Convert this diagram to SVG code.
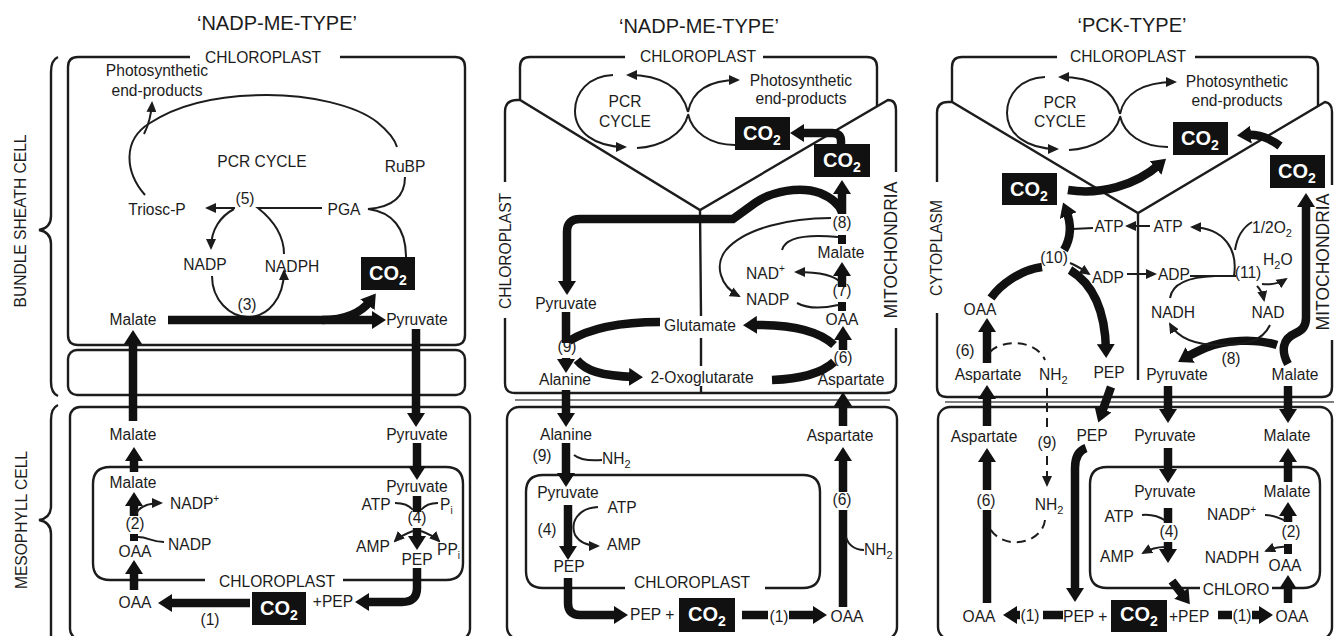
<svg xmlns="http://www.w3.org/2000/svg" width="1334" height="636" viewBox="0 0 1334 636">
<defs>
<style>
text{font-family:"Liberation Sans",Arial,Helvetica,sans-serif;font-size:15.6px;fill:#1c1c1c;text-anchor:middle}
.st{text-anchor:start}
.ti{font-size:20px}
.mi{font-size:17.5px}
.cw{font-size:20px;font-weight:bold;fill:#fff}
.box{fill:none;stroke:#1c1c1c;stroke-width:2.4}
.wall{fill:none;stroke:#555;stroke-width:1.3}
.ln{fill:none;stroke:#1c1c1c;stroke-width:2}
.tk{fill:none;stroke:#111;stroke-width:8.5}
.ds{stroke-dasharray:9 6}
.cb{fill:#111}
</style>
<marker id="a" viewBox="0 0 11 10" markerWidth="11" markerHeight="10" refX="9" refY="5" orient="auto" markerUnits="userSpaceOnUse"><path d="M0,0L11,5L0,10z" fill="#1c1c1c"/></marker>
<marker id="A" viewBox="0 0 14 18" markerWidth="14" markerHeight="18" refX="6" refY="9" orient="auto" markerUnits="userSpaceOnUse"><path d="M0,0L14,9L0,18z" fill="#111"/></marker>
</defs>
<rect width="1334" height="636" fill="#fff"/>

<!-- ================= PANEL 1 ================= -->
<g id="p1-compartments">
<path class="box" d="M190,57 L78,57 Q68,57 68,67 L68,335 Q68,345 78,345 L455,345 Q465,345 465,335 L465,67 Q465,57 455,57 L340,57"/>
<rect class="box" x="68" y="350" width="397" height="45" rx="9"/>
<rect class="box" x="70" y="407" width="400" height="232" rx="10"/>
<path class="box" d="M205,580 L110,580 Q93,580 93,563 L93,484 Q93,467 110,467 L446,467 Q463,467 463,484 L463,563 Q463,580 446,580 L343,580"/>
<path class="box" d="M58,57 Q51,60 51,72 L51,216 Q51,228 39,230 Q51,232 51,244 L51,382 Q51,393 58,396"/>
<path class="box" d="M58,405 Q51,408 51,420 L51,506 Q51,518 39,520 Q51,522 51,534 L51,640"/>
</g>
<g id="p1-labels">
<text class="ti" x="277" y="30">‘NADP-ME-TYPE’</text>
<text x="263" y="63">CHLOROPLAST</text>
<text x="277" y="587">CHLOROPLAST</text>
<text transform="translate(26,221) rotate(-90)">BUNDLE SHEATH CELL</text>
<text transform="translate(27,520) rotate(-90)">MESOPHYLL CELL</text>
</g>
<g id="p1-photo"><text x="157" y="76">Photosynthetic</text><text x="157" y="96">end-products</text></g>
<g id="p1-pcr"><text x="262" y="167">PCR CYCLE</text></g>
<g id="p1-rubp"><text x="405" y="172">RuBP</text></g>
<g id="p1-triose"><text x="157" y="215">Triosc-P</text></g>
<g id="p1-e5"><text x="245" y="204">(5)</text></g>
<g id="p1-pga"><text x="344" y="215">PGA</text></g>
<g id="p1-nadp"><text x="205" y="270">NADP</text></g>
<g id="p1-nadph"><text x="292" y="272">NADPH</text></g>
<g id="p1-e3"><text x="247" y="310">(3)</text></g>
<g id="p1-co2-bs"><rect class="cb" x="361" y="257" width="54" height="33"/><text class="cw" x="388" y="280">CO<tspan dy="5" font-size="14">2</tspan></text></g>
<g id="p1-malate-bs"><text x="133" y="325">Malate</text></g>
<g id="p1-pyr-bs"><text x="417" y="325">Pyruvate</text></g>
<g id="p1-malate-m"><text x="133" y="440">Malate</text></g>
<g id="p1-pyr-m"><text x="417" y="440">Pyruvate</text></g>
<g id="p1-malate-c"><text x="133" y="488">Malate</text></g>
<g id="p1-nadpp"><text class="st" x="170" y="509">NADP<tspan dy="-7" font-size="10">+</tspan></text></g>
<g id="p1-e2"><text x="135" y="529">(2)</text></g>
<g id="p1-nadp2"><text class="st" x="168" y="550">NADP</text></g>
<g id="p1-oaa-c"><text x="135" y="557">OAA</text></g>
<g id="p1-oaa-m"><text x="135" y="608">OAA</text></g>
<g id="p1-co2-m"><rect class="cb" x="252" y="592" width="54" height="33"/><text class="cw" x="279" y="615">CO<tspan dy="5" font-size="14">2</tspan></text></g>
<g id="p1-e1"><text x="210" y="625">(1)</text></g>
<g id="p1-pep-plus"><text x="333" y="607">+PEP</text></g>
<g id="p1-pyr-c"><text x="417" y="492">Pyruvate</text></g>
<g id="p1-atp"><text x="376" y="510">ATP</text></g>
<g id="p1-pi"><text class="st" x="440" y="510">P<tspan dy="4" font-size="10">i</tspan></text></g>
<g id="p1-e4"><text x="417" y="523">(4)</text></g>
<g id="p1-amp"><text x="373" y="552">AMP</text></g>
<g id="p1-ppi"><text class="st" x="437" y="555">PP<tspan dy="4" font-size="10">i</tspan></text></g>
<g id="p1-pep-c"><text x="417" y="565">PEP</text></g>

<g id="p1-connectors">
<path class="ln" d="M145,195 C125,172 122,140 150,123 C185,100 230,95 267,95 C310,95 355,105 377,122 C388,131 395,140 397,147"/>
<path class="ln" d="M144,134 Q151,120 152,103" marker-end="url(#a)"/>
<path class="ln" d="M235,208 L207,208" marker-end="url(#a)"/>
<path class="ln" d="M234,209 C221,216 211,229 211,248" marker-end="url(#a)"/>
<path class="ln" d="M322,208 L258,208 C273,220 284,236 284,254"/>
<path class="ln" d="M212,276 C212,300 230,317 248,317 C268,317 284,298 284,271" marker-end="url(#a)"/>
<path class="ln" d="M405,177 C405,195 395,207 368,209 C392,212 406,228 406,257"/>
<path class="tk" d="M168,320 L378,320" marker-end="url(#A)"/>
<path class="tk" d="M322,320 C346,320 362,312 371,300" marker-end="url(#A)"/>
<path class="tk" d="M133,421 L133,338" marker-end="url(#A)"/>
<path class="tk" d="M416,329 L416,419" marker-end="url(#A)"/>
<path class="tk" d="M134,472 L134,455" marker-end="url(#A)"/>
<path class="tk" d="M134,516 L134,500" marker-end="url(#A)"/>
<path class="ln" d="M136,514 C140,505 150,503 161,503" marker-end="url(#a)"/>
<path class="ln" d="M138,537 C148,537 152,542 164,542"/>
<rect class="cb" x="130" y="534" width="8" height="7"/>
<path class="tk" d="M134,590 L134,568" marker-end="url(#A)"/>
<path class="tk" d="M250,603 L166,603" marker-end="url(#A)"/>
<path class="tk" d="M417,568 L417,588 Q417,602 402,602 L363,602" marker-end="url(#A)"/>
<path class="tk" d="M417,443 L417,472" marker-end="url(#A)"/>
<path class="tk" d="M417,496 L417,512"/>
<path class="ln" d="M395,503 C403,503 409,505 413,510"/>
<path class="ln" d="M421,510 C425,505 431,503 438,503"/>
<path class="tk" d="M417,528 L417,542" marker-end="url(#A)"/>
<path class="ln" d="M413,531 C405,534 399,537 395,541" marker-end="url(#a)"/>
<path class="ln" d="M421,531 C429,534 435,537 439,541" marker-end="url(#a)"/>
</g>

<!-- ================= PANEL 2 ================= -->
<g id="p2-compartments">
<path class="box" d="M625,57 L530,57 Q520,57 520,67 L520,100"/>
<path class="box" d="M763,57 L867,57 Q877,57 877,67 L877,106"/>
<path class="box" d="M505,182 L505,112 Q505,100 517,100 L520,100 L700,210 L888,100 Q896,100 896,110 L896,172"/>
<path class="box" d="M896,328 L896,383 Q896,393 886,393 L515,393 Q505,393 505,383 L505,318"/>
<path class="box" d="M700,210 L701,316 M701,338 L701,366 M701,386 L701,393"/>
<path class="wall" d="M515,400 L890,400"/>
<rect class="box" x="507" y="407" width="390" height="232" rx="12"/>
<path class="box" d="M625,588 L543,588 Q526,588 526,571 L526,492 Q526,475 543,475 L803,475 Q820,475 820,492 L820,571 Q820,588 803,588 L765,588"/>
</g>
<g id="p2-labels">
<text class="ti" x="699" y="33">‘NADP-ME-TYPE’</text>
<text x="698" y="62">CHLOROPLAST</text>
<text transform="translate(511,251) rotate(-90)">CHLOROPLAST</text>
<text class="mi" transform="translate(897,250) rotate(-90)">MITOCHONDRIA</text>
<text x="692" y="588">CHLOROPLAST</text>
</g>
<g id="p2-pcr"><text x="625" y="107">PCR</text><text x="625" y="127">CYCLE</text></g>
<g id="p2-photo"><text x="801" y="86">Photosynthetic</text><text x="801" y="104">end-products</text></g>
<g id="p2-co2-a"><rect class="cb" x="735" y="117" width="55" height="33"/><text class="cw" x="762" y="140">CO<tspan dy="5" font-size="14">2</tspan></text></g>
<g id="p2-co2-b"><rect class="cb" x="814" y="144" width="56" height="33"/><text class="cw" x="842" y="167">CO<tspan dy="5" font-size="14">2</tspan></text></g>
<g id="p2-e8"><text x="842" y="228">(8)</text></g>
<g id="p2-malate"><text x="841" y="258">Malate</text></g>
<g id="p2-nadp-plus"><text class="st" x="746" y="279">NAD<tspan dy="-7" font-size="10">+</tspan></text></g>
<g id="p2-e7"><text x="842" y="296">(7)</text></g>
<g id="p2-nadp"><text class="st" x="746" y="305">NADP</text></g>
<g id="p2-oaa"><text x="842" y="325">OAA</text></g>
<g id="p2-glu"><text x="700" y="331">Glutamate</text></g>
<g id="p2-pyr"><text x="566" y="309">Pyruvate</text></g>
<g id="p2-e9"><text x="567" y="352">(9)</text></g>
<g id="p2-oxo"><text x="702" y="383">2-Oxoglutarate</text></g>
<g id="p2-e6"><text x="843" y="363">(6)</text></g>
<g id="p2-asp"><text x="851" y="385">Aspartate</text></g>
<g id="p2-ala"><text x="565" y="385">Alanine</text></g>
<g id="p2-ala-m"><text x="566" y="440">Alanine</text></g>
<g id="p2-e9m"><text x="542" y="461">(9)</text></g>
<g id="p2-nh2"><text class="st" x="602" y="464">NH<tspan dy="4" font-size="11">2</tspan></text></g>
<g id="p2-pyr-c"><text x="568" y="498">Pyruvate</text></g>
<g id="p2-atp"><text x="622" y="513">ATP</text></g>
<g id="p2-e4"><text x="547" y="535">(4)</text></g>
<g id="p2-amp"><text x="624" y="550">AMP</text></g>
<g id="p2-pep-c"><text x="569" y="572">PEP</text></g>
<g id="p2-pep-plus"><text class="st" x="630" y="620">PEP +</text></g>
<g id="p2-co2-m"><rect class="cb" x="679" y="598" width="56" height="34"/><text class="cw" x="707" y="621">CO<tspan dy="5" font-size="14">2</tspan></text></g>
<g id="p2-e1"><text x="779" y="622">(1)</text></g>
<g id="p2-oaa-m"><text x="847" y="622">OAA</text></g>
<g id="p2-e6m"><text x="842" y="505">(6)</text></g>
<g id="p2-nh2b"><text class="st" x="864" y="555">NH<tspan dy="4" font-size="11">2</tspan></text></g>
<g id="p2-asp-m"><text x="840" y="441">Aspartate</text></g>

<g id="p2-connectors">
<path class="ln" d="M688,112 C682,88 662,75 628,75" marker-end="url(#a)"/>
<path class="ln" d="M613,75 C588,76 575,93 575,111 C575,132 595,147 625,147" marker-end="url(#a)"/>
<path class="ln" d="M637,148 C660,147 683,135 688,115"/>
<path class="ln" d="M688,112 C692,92 708,80 738,80" marker-end="url(#a)"/>
<path class="ln" d="M688,114 C692,132 710,145 735,145"/>
<path class="tk" d="M841,145 L841,141 Q841,133 832,133 L798,133" marker-end="url(#A)"/>
<path class="tk" d="M842,214 L842,188" marker-end="url(#A)"/>
<path class="tk" d="M842,212 C839,204 832,198 820,193 C800,186 772,191 755,203 L733,219 L580,219 Q567,219 567,232 L567,287" marker-end="url(#A)"/>
<rect class="cb" x="838" y="235" width="8" height="9"/>
<path class="ln" d="M782,250 C785,238 805,234 838,237"/>
<path class="ln" d="M831,218 C790,218 745,228 726,250 C714,265 720,286 739,296" marker-end="url(#a)"/>
<path class="ln" d="M841,283 C835,275 820,272 796,272" marker-end="url(#a)"/>
<path class="tk" d="M842,287 L842,270" marker-end="url(#A)"/>
<rect class="cb" x="838" y="302" width="8" height="9"/>
<path class="ln" d="M797,303 C808,309 825,308 838,305"/>
<path class="tk" d="M834,345 C818,330 790,324 751,325" marker-end="url(#A)"/>
<path class="tk" d="M660,322 C620,322 590,328 569,341"/>
<path class="tk" d="M566,312 L566,343"/>
<path class="tk" d="M566,358 L566,365" marker-end="url(#A)"/>
<path class="tk" d="M577,360 C585,370 600,376 635,377" marker-end="url(#A)"/>
<path class="tk" d="M772,380 C800,379 822,373 834,362"/>
<path class="tk" d="M843,350 L843,334" marker-end="url(#A)"/>
<path class="tk" d="M566,390 L566,419" marker-end="url(#A)"/>
<path class="tk" d="M566,443 L566,479" marker-end="url(#A)"/>
<path class="ln" d="M574,455 C580,460 590,461 602,460"/>
<path class="tk" d="M568,505 L568,552" marker-end="url(#A)"/>
<path class="ln" d="M598,507 C578,508 570,522 575,535 C580,543 588,546 598,546" marker-end="url(#a)"/>
<path class="tk" d="M568,578 L568,603 Q568,615 580,615 L620,615" marker-end="url(#A)"/>
<path class="tk" d="M742,615 L768,615"/>
<path class="tk" d="M789,615 L819,615" marker-end="url(#A)"/>
<path class="tk" d="M843,607 L843,510"/>
<path class="tk" d="M843,492 L843,455" marker-end="url(#A)"/>
<path class="ln" d="M846,537 C848,545 855,550 864,550"/>
<path class="tk" d="M843,426 L843,400" marker-end="url(#A)"/>
</g>

<!-- ================= PANEL 3 ================= -->
<g id="p3-compartments">
<path class="box" d="M1057,57 L962,57 Q952,57 952,67 L952,102"/>
<path class="box" d="M1195,57 L1308,57 Q1318,57 1318,67 L1318,106"/>
<path class="box" d="M937,182 L937,113 Q937,102 948,102 L952,102 L1138,213 L1325,102 Q1332,103 1332,112 L1332,185"/>
<path class="box" d="M1332,340 L1332,387 Q1332,397 1322,397 L947,397 Q937,397 937,387 L937,313"/>
<path class="box" d="M1138,213 L1138,380"/>
<path class="wall" d="M945,402 L1334,402"/>
<rect class="box" x="938" y="407" width="394" height="232" rx="12"/>
<path class="box" d="M1200,588 L1107,588 Q1090,588 1090,571 L1090,484 Q1090,467 1107,467 L1303,467 Q1320,467 1320,484 L1320,571 Q1320,588 1303,588 L1272,588"/>
</g>
<g id="p3-labels">
<text class="ti" x="1132" y="32">‘PCK-TYPE’</text>
<text x="1128" y="62">CHLOROPLAST</text>
<text transform="translate(942,248) rotate(-90)">CYTOPLASM</text>
<text class="mi" transform="translate(1329,262) rotate(-90)">MITOCHONDRIA</text>
<text x="1236" y="595">CHLORO</text>
</g>
<g id="p3-pcr"><text x="1060" y="108">PCR</text><text x="1060" y="127">CYCLE</text></g>
<g id="p3-photo"><text x="1237" y="87">Photosynthetic</text><text x="1237" y="106">end-products</text></g>
<g id="p3-co2-a"><rect class="cb" x="1173" y="122" width="55" height="33"/><text class="cw" x="1200" y="145">CO<tspan dy="5" font-size="14">2</tspan></text></g>
<g id="p3-co2-mito"><rect class="cb" x="1270" y="155" width="55" height="33"/><text class="cw" x="1297" y="178">CO<tspan dy="5" font-size="14">2</tspan></text></g>
<g id="p3-co2-cyto"><rect class="cb" x="1002" y="173" width="55" height="32"/><text class="cw" x="1029" y="196">CO<tspan dy="5" font-size="14">2</tspan></text></g>
<g id="p3-atp-c"><text x="1109" y="232">ATP</text></g>
<g id="p3-atp-m"><text x="1168" y="232">ATP</text></g>
<g id="p3-o2"><text class="st" x="1252" y="233">1/2O<tspan dy="4" font-size="11">2</tspan></text></g>
<g id="p3-h2o"><text class="st" x="1263" y="265">H<tspan dy="4" font-size="11">2</tspan><tspan dy="-4">O</tspan></text></g>
<g id="p3-e10"><text x="1054" y="263">(10)</text></g>
<g id="p3-adp-c"><text x="1108" y="283">ADP</text></g>
<g id="p3-adp-m"><text x="1174" y="280">ADP</text></g>
<g id="p3-e11"><text x="1248" y="278">(11)</text></g>
<g id="p3-nadh"><text x="1173" y="318">NADH</text></g>
<g id="p3-nad"><text x="1268" y="318">NAD</text></g>
<g id="p3-oaa-c"><text x="980" y="315">OAA</text></g>
<g id="p3-e6"><text x="965" y="356">(6)</text></g>
<g id="p3-asp"><text x="988" y="380">Aspartate</text></g>
<g id="p3-nh2"><text class="st" x="1039" y="380">NH<tspan dy="4" font-size="11">2</tspan></text></g>
<g id="p3-pep"><text x="1109" y="378">PEP</text></g>
<g id="p3-pyr"><text x="1177" y="380">Pyruvate</text></g>
<g id="p3-malate"><text x="1295" y="380">Malate</text></g>
<g id="p3-e8"><text x="1231" y="364">(8)</text></g>
<g id="p3-asp-m"><text x="984" y="442">Aspartate</text></g>
<g id="p3-e9"><text x="1047" y="448">(9)</text></g>
<g id="p3-pep-m"><text x="1092" y="441">PEP</text></g>
<g id="p3-pyr-m"><text x="1165" y="441">Pyruvate</text></g>
<g id="p3-malate-m"><text x="1287" y="441">Malate</text></g>
<g id="p3-nh2-m"><text x="1049" y="510">NH<tspan dy="4" font-size="11">2</tspan></text></g>
<g id="p3-e6m"><text x="986" y="506">(6)</text></g>
<g id="p3-pyr-c"><text x="1165" y="497">Pyruvate</text></g>
<g id="p3-malate-c"><text x="1287" y="497">Malate</text></g>
<g id="p3-atp"><text x="1119" y="522">ATP</text></g>
<g id="p3-e4"><text x="1169" y="537">(4)</text></g>
<g id="p3-amp"><text x="1117" y="562">AMP</text></g>
<g id="p3-nadpp"><text class="st" x="1207" y="520">NADP<tspan dy="-7" font-size="10">+</tspan></text></g>
<g id="p3-e2"><text x="1291" y="537">(2)</text></g>
<g id="p3-nadph"><text x="1232" y="563">NADPH</text></g>
<g id="p3-oaa-cl"><text x="1285" y="571">OAA</text></g>
<g id="p3-oaa-l"><text x="979" y="622">OAA</text></g>
<g id="p3-e1a"><text x="1030" y="621">(1)</text></g>
<g id="p3-pep-plus"><text class="st" x="1063" y="622">PEP +</text></g>
<g id="p3-co2-m"><rect class="cb" x="1111" y="600" width="56" height="32"/><text class="cw" x="1139" y="621">CO<tspan dy="5" font-size="14">2</tspan></text></g>
<g id="p3-plus-pep"><text class="st" x="1169" y="622">+PEP</text></g>
<g id="p3-e1b"><text x="1242" y="621">(1)</text></g>
<g id="p3-oaa-r"><text x="1292" y="622">OAA</text></g>

<g id="p3-connectors">
<path class="ln" d="M1120,114 C1114,90 1094,77 1060,77" marker-end="url(#a)"/>
<path class="ln" d="M1045,77 C1020,78 1007,95 1007,113 C1007,134 1027,149 1057,149" marker-end="url(#a)"/>
<path class="ln" d="M1069,150 C1092,149 1115,137 1120,117"/>
<path class="ln" d="M1120,114 C1124,94 1142,82 1175,82" marker-end="url(#a)"/>
<path class="ln" d="M1120,116 C1124,134 1142,147 1168,147"/>
<path class="tk" d="M1068,190 C1100,195 1135,186 1160,164" marker-end="url(#A)"/>
<path class="tk" d="M1280,146 C1268,137 1258,134 1245,135" marker-end="url(#A)"/>
<path class="tk" d="M1288,364 C1281,351 1282,339 1296,333 Q1306,329 1306,318 L1306,201" marker-end="url(#A)"/>
<path class="tk" d="M1277,345 C1255,338 1225,340 1205,348 C1196,352 1190,355 1185,358" marker-end="url(#A)"/>
<path class="ln" d="M1270,325 C1262,342 1245,345 1220,345 C1195,345 1178,338 1170,324" marker-end="url(#a)"/>
<path class="ln" d="M1150,226 L1127,226" marker-end="url(#a)"/>
<path class="ln" d="M1093,228 L1072,229"/>
<path class="tk" d="M1064,250 C1071,238 1072,225 1066,210" marker-end="url(#A)"/>
<path class="ln" d="M1070,263 C1078,266 1083,270 1089,274" marker-end="url(#a)"/>
<path class="ln" d="M1127,274 L1155,274" marker-end="url(#a)"/>
<path class="ln" d="M1190,276 L1236,276"/>
<path class="ln" d="M1170,298 C1172,285 1185,277 1215,276"/>
<path class="ln" d="M1234,276 C1238,250 1225,228 1192,227" marker-end="url(#a)"/>
<path class="ln" d="M1252,222 C1242,228 1237,237 1235,250"/>
<path class="ln" d="M1262,284 C1272,285 1280,283 1286,279" marker-end="url(#a)"/>
<path class="ln" d="M1257,286 C1261,290 1263,295 1264,300" marker-end="url(#a)"/>
<path class="tk" d="M991,298 C1000,285 1020,270 1042,267"/>
<path class="tk" d="M1070,270 C1090,282 1105,305 1106,350" marker-end="url(#A)"/>
<path class="tk" d="M987,363 L987,326" marker-end="url(#A)"/>
<path class="ln ds" d="M990,352 C1000,340 1035,338 1045,360"/>
<path class="ln ds" d="M1047,388 L1047,428"/>
<path class="ln ds" d="M1047,456 L1047,485" marker-end="url(#a)"/>
<path class="ln ds" d="M1045,520 C1042,545 1000,552 988,525"/>
<path class="tk" d="M987,426 L987,393" marker-end="url(#A)"/>
<path class="tk" d="M987,603 L987,510"/>
<path class="tk" d="M987,490 L987,456" marker-end="url(#A)"/>
<path class="tk" d="M1111,387 L1101,415" marker-end="url(#A)"/>
<path class="tk" d="M1086,448 Q1075,452 1075,468 L1075,594" marker-end="url(#A)"/>
<path class="tk" d="M1168,386 L1168,415" marker-end="url(#A)"/>
<path class="tk" d="M1288,386 L1288,415" marker-end="url(#A)"/>
<path class="tk" d="M1168,448 L1168,475" marker-end="url(#A)"/>
<path class="ln" d="M1142,515 C1152,514 1160,517 1166,521"/>
<path class="tk" d="M1168,508 L1168,523"/>
<path class="tk" d="M1168,542 L1168,555" marker-end="url(#A)"/>
<path class="ln" d="M1165,547 C1158,547 1150,549 1143,553" marker-end="url(#a)"/>
<path class="tk" d="M1288,482 L1288,456" marker-end="url(#A)"/>
<path class="tk" d="M1288,522 L1288,510" marker-end="url(#A)"/>
<path class="ln" d="M1265,515 C1273,515 1280,518 1286,521"/>
<path class="ln" d="M1287,547 C1280,546 1273,548 1266,551" marker-end="url(#a)"/>
<rect class="cb" x="1284" y="544" width="8" height="10"/>
<path class="tk" d="M1288,603 L1288,583" marker-end="url(#A)"/>
<path class="tk" d="M1172,581 L1185,598" marker-end="url(#A)"/>
<path class="tk" d="M1020,615 L1011,615" marker-end="url(#A)"/>
<path class="tk" d="M1043,615 L1063,615"/>
<path class="tk" d="M1218,615 L1232,615"/>
<path class="tk" d="M1252,615 L1265,615" marker-end="url(#A)"/>
</g>
</svg>
